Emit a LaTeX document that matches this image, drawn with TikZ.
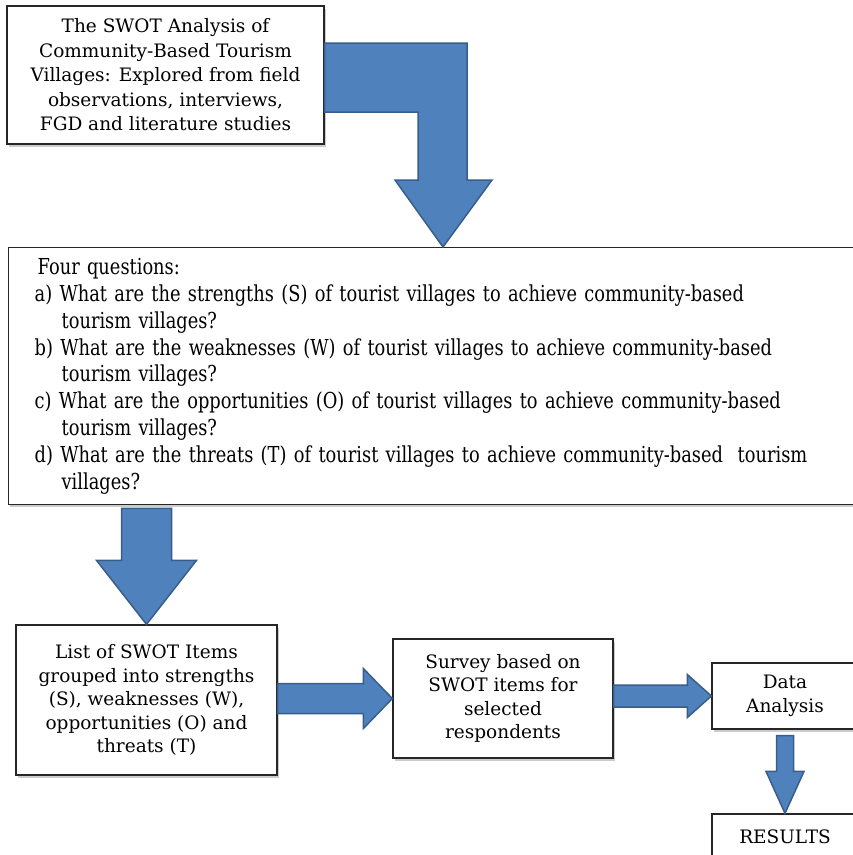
\documentclass[tikz,border=0pt]{standalone}
\usepackage{fontspec}
\setmainfont{DejaVu Serif}
\newfontfamily\narrowserif[FakeStretch=0.81]{DejaVu Serif}
\usetikzlibrary{positioning,calc,shadows}

\definecolor{arrowblue}{HTML}{4F81BD}
\definecolor{arrowedge}{HTML}{385D8A}

\tikzset{
  box/.style={draw=black!85, line width=1.3pt, fill=white, inner sep=0pt, align=center,
    drop shadow={shadow xshift=1.5pt, shadow yshift=-2.5pt, fill=black!20, opacity=1},
    font=\fontsize{18.5}{23.5}\selectfont},
  blockarrow/.style={fill=arrowblue, draw=arrowedge, line width=1.5pt, line join=miter}
}

\begin{document}
\begin{tikzpicture}[x=1pt,y=-1pt]
\useasboundingbox (0,0) rectangle (853,855);
\clip (0,0) rectangle (853,855);
% boxes
\node[box, minimum width=317, minimum height=138, font=\fontsize{18.5}{24.5}\selectfont] (swot) at (165.5,75) {The SWOT Analysis of\\Community-Based Tourism\\Villages: Explored from field\\observations, interviews,\\FGD and literature studies};
\node[box, anchor=north west, minimum height=257, text width=820, align=left, inner xsep=26pt,
  font=\narrowserif\fontsize{22}{26.8}\selectfont] (questions) at (8,247) {\hspace*{3pt}Four questions:\\
a) What are the strengths (S) of tourist villages to achieve community-based\\
\hspace*{27pt}tourism villages?\\
b) What are the weaknesses (W) of tourist villages to achieve community-based\\
\hspace*{27pt}tourism villages?\\
c) What are the opportunities (O) of tourist villages to achieve community-based\\
\hspace*{27pt}tourism villages?\\
d) What are the threats (T) of tourist villages to achieve community-based\ \ tourism\\
\hspace*{27pt}villages?};
\node[box, minimum width=261, minimum height=150] (items) at (146.5,700) {List of SWOT Items\\grouped into strengths\\(S), weaknesses (W),\\opportunities (O) and\\threats (T)};
\node[box, minimum width=220, minimum height=119] (survey) at (503,698.5) {Survey based on\\SWOT items for\\selected\\respondents};
\node[box, minimum width=146, minimum height=66] (analysis) at (785,696) {Data\\Analysis};
\node[box, minimum width=146, minimum height=46] (results) at (785,837) {RESULTS};
% arrows
\coordinate (t1) at ($(questions.north west)+(435,0)$);
\draw[blockarrow] ($(swot.east)+(0,-32)$) -- (467,43) -- (467,180) -- (492,180) -- (t1) -- (395,180) -- (418,180) -- (418,112) -- ($(swot.east)+(0,37)$) -- cycle; %L arrow
\draw[blockarrow] ($(questions.south west -| items.north)+(-25,3)$) -- ($(items.north)+(-25,-64)$) -- ($(items.north)+(-50,-64)$) -- (items.north) -- ($(items.north)+(50,-64)$) -- ($(items.north)+(25,-64)$) -- ($(questions.south west -| items.north)+(25,3)$) -- cycle; %down arrow
\draw[blockarrow] ($(items.east |- survey.west)+(0,-15)$) -- ($(survey.west)+(-29,-15)$) -- ($(survey.west)+(-29,-30)$) -- (survey.west) -- ($(survey.west)+(-29,30)$) -- ($(survey.west)+(-29,15)$) -- ($(items.east |- survey.west)+(0,15)$) -- cycle; %right arrow
\draw[blockarrow] ($(survey.east |- analysis.west)+(0,-11)$) -- ($(analysis.west)+(-24,-11)$) -- ($(analysis.west)+(-24,-21.5)$) -- (analysis.west) -- ($(analysis.west)+(-24,21.5)$) -- ($(analysis.west)+(-24,11)$) -- ($(survey.east |- analysis.west)+(0,11)$) -- cycle; %right arrow
\draw[blockarrow] ($(analysis.south -| results.north)+(-8.5,6)$) -- ($(results.north)+(-8.5,-42)$) -- ($(results.north)+(-19,-42)$) -- (results.north) -- ($(results.north)+(19,-42)$) -- ($(results.north)+(8.5,-42)$) -- ($(analysis.south -| results.north)+(8.5,6)$) -- cycle; %down arrow
\end{tikzpicture}
\end{document}
